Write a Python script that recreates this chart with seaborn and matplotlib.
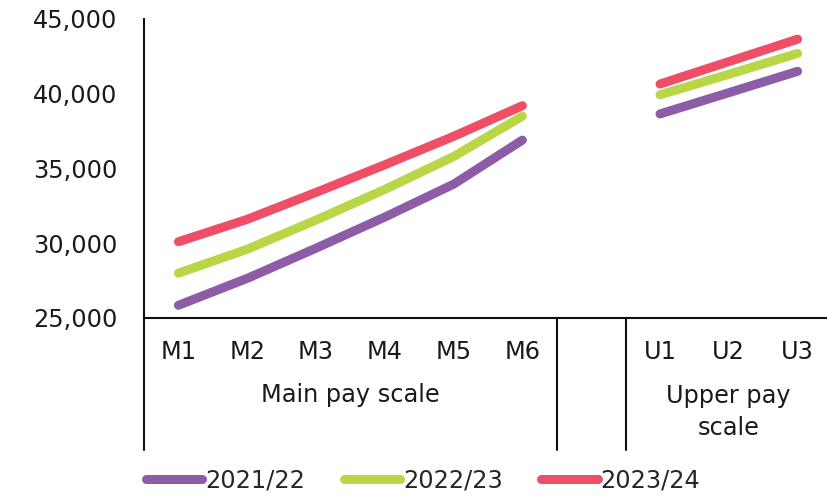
import numpy as np
import pandas as pd
import matplotlib
matplotlib.use("Agg")
import matplotlib.pyplot as plt
from matplotlib.lines import Line2D
import seaborn as sns

categories = ["M1", "M2", "M3", "M4", "M5", "M6", "", "U1", "U2", "U3"]
main_cats = ["M1", "M2", "M3", "M4", "M5", "M6"]
upper_cats = ["U1", "U2", "U3"]
series_names = ["2021/22", "2022/23", "2023/24"]
main_2021 = [25850, 27650, 29670, 31750, 33950, 36900]
main_2022 = [28000, 29600, 31550, 33600, 35800, 38500]
main_2023 = [30100, 31600, 33400, 35250, 37150, 39200]
upper_2021 = [38650, 40070, 41500]
upper_2022 = [39930, 41300, 42700]
upper_2023 = [40650, 42150, 43650]
yticks = [25000, 30000, 35000, 40000, 45000]
colors = ["#8C5CA6", "#B9D647", "#EF4E67"]

rows = []
for name, mv, uv in zip(series_names, [main_2021, main_2022, main_2023],
                        [upper_2021, upper_2022, upper_2023]):
    for c, v in zip(main_cats, mv):
        rows.append(dict(cat=c, pos=categories.index(c), value=v, series=name, seg="main"))
    for c, v in zip(upper_cats, uv):
        rows.append(dict(cat=c, pos=categories.index(c), value=v, series=name, seg="upper"))
df = pd.DataFrame(rows)

sns.set_theme(style="white")
plt.rcParams["font.family"] = ["DejaVu Sans"]
FS = 17.3
TC = "#1a1a1a"

fig = plt.figure(figsize=(8.27, 4.96), dpi=100)
ax = fig.add_axes([144 / 827, 1 - 318 / 496, 688 / 827, 299 / 496])

palette = dict(zip(series_names, colors))
sns.lineplot(data=df[df.seg == "main"], x="pos", y="value", hue="series",
             palette=palette, hue_order=series_names, ax=ax, lw=6.5,
             solid_capstyle="round", legend=True)
sns.lineplot(data=df[df.seg == "upper"], x="pos", y="value", hue="series",
             palette=palette, hue_order=series_names, ax=ax, lw=6.5,
             solid_capstyle="round", legend=False)
for ln in ax.get_lines():
    ln.set_solid_capstyle("round")

ax.set_xlim(-0.5, len(categories) - 0.5)
ax.set_ylim(25000, 45000)
ax.set_yticks(yticks)
ax.set_yticklabels([f"{v:,}" for v in yticks], fontsize=FS, color=TC)
ax.set_xticks(range(len(categories)))
ax.set_xticklabels(categories, fontsize=FS, color=TC)
ax.tick_params(axis="y", length=0, pad=19)
ax.tick_params(axis="x", length=0, pad=16)
ax.set_xlabel("")
ax.set_ylabel("")
for s in ["top", "right"]:
    ax.spines[s].set_visible(False)
for s in ["left", "bottom"]:
    ax.spines[s].set_color("#111111")
    ax.spines[s].set_linewidth(1.5)

trans = ax.get_xaxis_transform()
low = -132 / 299
for xpos in [-0.5, 5.5, 6.5]:
    ax.add_line(Line2D([xpos, xpos], [0, low], transform=trans, color="#111111",
                       lw=1.5, clip_on=False))

ax.text(2.5, -77 / 299, "Main pay scale", transform=trans, ha="center", va="center",
        fontsize=FS, color=TC)
ax.text(8, -94 / 299, "Upper pay\nscale", transform=trans, ha="center", va="center",
        fontsize=FS, color=TC, linespacing=1.4)

fig.text(447 / 827, 1 + 5 / 496, "pay", ha="center", va="baseline", fontsize=FS,
         color=TC)

handles, labels = ax.get_legend_handles_labels()
ax.get_legend().remove()
for h in handles:
    h.set_solid_capstyle("round")
fig.legend(handles, labels, loc="center left", bbox_to_anchor=(146 / 827, 1 - 480 / 496),
           ncol=3, frameon=False, fontsize=FS, handlelength=2.35, handletextpad=0.12,
           columnspacing=1.6, borderpad=0, borderaxespad=0)

fig.savefig("out.png", dpi=100)
